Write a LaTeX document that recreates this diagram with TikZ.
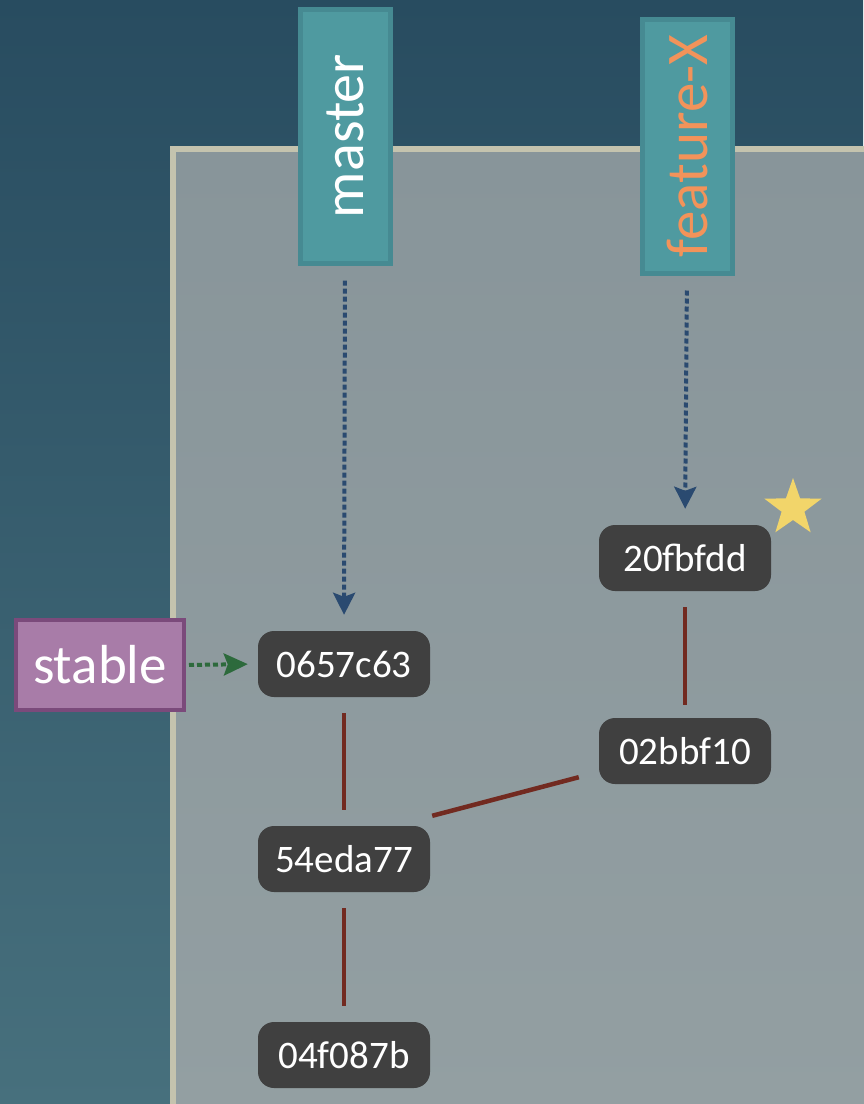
\documentclass[tikz,border=0pt]{standalone}
\usepackage{fontspec}
\setmainfont{Carlito}
\usetikzlibrary{arrows.meta,shapes.geometric,calc}
\definecolor{bgtop}{HTML}{284C60}
\definecolor{bgbot}{HTML}{47707D}
\definecolor{paneltop}{HTML}{88959A}
\definecolor{panelbot}{HTML}{939FA2}
\definecolor{panelrim}{HTML}{C4C3AE}
\definecolor{branchfill}{HTML}{4F9AA0}
\definecolor{branchrim}{HTML}{468A92}
\definecolor{featcol}{HTML}{F2935A}
\definecolor{commitfill}{HTML}{404040}
\definecolor{edgecol}{HTML}{722A20}
\definecolor{ptrblue}{HTML}{2A4A70}
\definecolor{ptrgreen}{HTML}{2D6A3C}
\definecolor{tagfill}{HTML}{A87CA8}
\definecolor{tagrim}{HTML}{7B4A7B}
\definecolor{starcol}{HTML}{F2D56A}
\tikzset{
  commit/.style={fill=commitfill, rounded corners=16pt, minimum width=172pt, minimum height=66pt, inner sep=0pt, text=white, font=\fontsize{39}{41}\selectfont},
  branchbox/.style={fill=branchfill, draw=branchrim, line width=5pt, minimum width=90pt, minimum height=254pt, inner sep=0pt},
  tagbox/.style={fill=tagfill, draw=tagrim, line width=4pt, minimum width=168pt, minimum height=90pt, inner sep=0pt, text=white, font=\fontsize{55}{57}\selectfont},
  edge/.style={draw=edgecol, line width=4.5pt},
  bluearrow/.style={draw=ptrblue, line width=4pt, dash pattern=on 5pt off 3pt, -{Stealth[inset=4pt,width=22pt,length=22pt]}, shorten <=15pt, shorten >=16pt},
  greenarrow/.style={draw=ptrgreen, line width=4pt, dash pattern=on 5pt off 3pt, -{Stealth[inset=4pt,width=22pt,length=24pt]}, shorten <=3pt, shorten >=10pt},
  starmark/.style={star, star points=5, star point ratio=2.5, fill=starcol, minimum size=60pt, inner sep=0pt}
}
\begin{document}
\begin{tikzpicture}[x=1pt,y=-1pt]
\useasboundingbox (0,0) rectangle (863,1104);
\shade[top color=bgtop, bottom color=bgbot] (0,0) rectangle (863,1104);
\shade[top color=paneltop, bottom color=panelbot] (173,149) rectangle (875,1115);
\draw[panelrim, line width=6pt] (173,1115) -- (173,149) -- (875,149);

\node[branchbox, text=white, font=\fontsize{58}{60}\selectfont] (master) at (345,136) {\rotatebox{90}{master}};
\node[branchbox, text=featcol, font=\fontsize{59}{61}\selectfont] (feat) at (687,146) {\rotatebox{90}{feature-X}};

\node[commit] (c06) at (344,664) {0657c63};
\node[commit] (c54) at (344,859) {54eda77};
\node[commit] (c04) at (344,1055) {04f087b};
\node[commit] (c20) at (685,558) {20fbfdd};
\node[commit] (c02) at (685,751) {02bbf10};

\node[tagbox] (stable) at (100,665) {stable};
\node[starmark] (star) at (793,508) {};

\draw[edge, shorten <=16pt, shorten >=16pt] (c06) -- (c54);
\draw[edge, shorten <=16pt, shorten >=16pt] (c54) -- (c04);
\draw[edge, shorten <=16pt, shorten >=13pt] (c20) -- (c02);
\coordinate (d1) at ($(c54.north east)+(2,-10)$);
\coordinate (d2) at ($(c02.south west)+(-20,-7)$);
\draw[edge] (d1) -- (d2);

\draw[bluearrow] (master.south) -- (c06.north);
\draw[bluearrow] (feat.south) -- (c20.north);
\draw[greenarrow] (stable.east) -- (c06.west);
\end{tikzpicture}
\end{document}
